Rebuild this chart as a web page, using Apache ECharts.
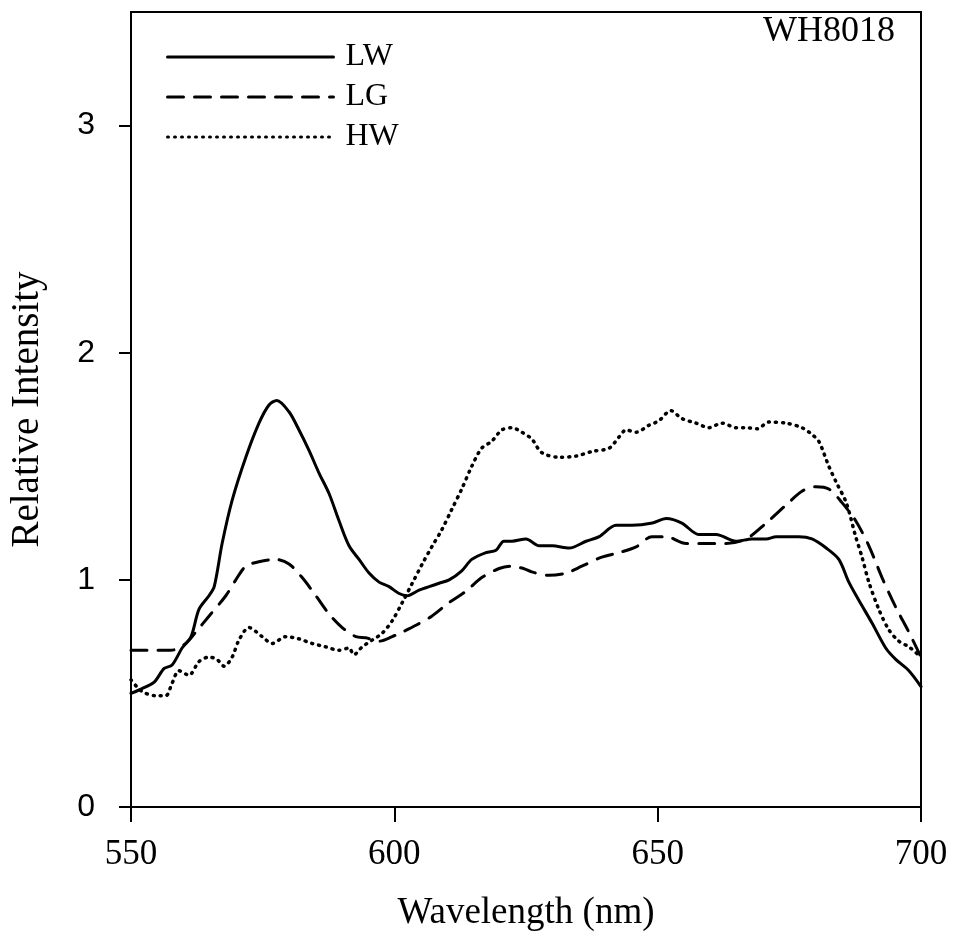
<!DOCTYPE html>
<html>
<head>
<meta charset="utf-8">
<script src="https://cdn.jsdelivr.net/npm/echarts@6/dist/echarts.min.js"></script>
<style>
  html, body { margin: 0; padding: 0; background: #fff; }
  #chart { width: 962px; height: 949px; }
</style>
</head>
<body>
<div id="chart"></div>
<script>
// wavelength (nm) / relative intensity
const lwX = [550,552,554.4,556.3,557.8,559.7,561.4,562.9,564.8,565.8,567.3,569.2,571.8,574.3,576.2,577.7,580,581.9,583.8,585.7,587.6,589.5,591.4,593.3,595.2,597.1,599,600.9,602.4,604.7,606.6,608.5,610.4,612.8,614.7,617.4,619.3,620.8,622.3,625,627.5,630,633.2,636.4,638.9,642.1,645.1,649,651.6,654.6,657.8,661.1,664.9,667.9,670.6,672.5,676.8,679.3,682,684.4,686.3,688.2,690.7,693.3,695.2,697.7,700];
const lwY = [0.50,0.52,0.55,0.61,0.625,0.70,0.75,0.87,0.93,0.97,1.16,1.35,1.54,1.69,1.77,1.79,1.74,1.66,1.57,1.47,1.38,1.26,1.15,1.09,1.03,0.99,0.97,0.94,0.93,0.955,0.97,0.985,1.00,1.04,1.09,1.12,1.13,1.17,1.17,1.18,1.15,1.15,1.14,1.17,1.19,1.24,1.24,1.25,1.27,1.25,1.20,1.20,1.17,1.18,1.18,1.19,1.19,1.18,1.14,1.09,0.99,0.91,0.81,0.70,0.65,0.60,0.53];

const lgX = [550,557.6,560.4,562.3,564.8,568,569.9,571.8,574.3,577.5,580,582.5,585.1,587.6,590.1,592.7,594.6,597.1,599.6,601.5,604.1,607.1,610.4,613.6,616.6,619.9,622,624.5,626.1,629.4,632.6,635.6,639.4,642.7,645.9,648.9,651.6,655.4,659.2,663,666.8,670.6,674.4,677.4,680,682.5,685,687.6,690.1,692.6,695.2,697.7,700];
const lgY = [0.69,0.69,0.72,0.77,0.84,0.93,1.00,1.06,1.08,1.09,1.07,1.01,0.93,0.85,0.79,0.75,0.745,0.73,0.75,0.77,0.80,0.84,0.90,0.95,1.01,1.05,1.06,1.05,1.035,1.02,1.03,1.06,1.10,1.12,1.145,1.19,1.19,1.16,1.16,1.16,1.18,1.25,1.33,1.39,1.41,1.40,1.34,1.26,1.15,1.01,0.88,0.77,0.66];

const hwX = [550,552,554.7,556.6,557.8,559.1,561,562.9,564.8,566.3,567.7,569.2,570.5,572.4,574.9,576.8,579.4,581.9,584.4,587,589.5,591.4,592.3,593.9,595.8,597.7,599.6,601.5,603.4,605.3,607.1,609,610.9,612.8,614.7,616.6,618.5,620.4,622.3,624.2,626.1,628,631.3,634.5,637.5,640.8,642.7,644,645.9,648.3,650.2,652.5,654.6,657.3,659.7,662.2,664.9,666.8,668.9,671.1,674.4,677.4,679.3,680.6,682.5,683.9,685.8,687.6,688.8,690.1,692,693.9,695.8,697.7,700];
const hwY = [0.56,0.51,0.49,0.49,0.545,0.60,0.58,0.64,0.66,0.65,0.62,0.66,0.735,0.79,0.75,0.72,0.75,0.74,0.72,0.705,0.69,0.70,0.67,0.705,0.735,0.765,0.82,0.90,0.985,1.07,1.145,1.22,1.31,1.40,1.50,1.58,1.61,1.66,1.67,1.65,1.62,1.56,1.54,1.545,1.565,1.58,1.63,1.66,1.65,1.68,1.70,1.745,1.71,1.69,1.67,1.69,1.67,1.67,1.665,1.695,1.69,1.67,1.64,1.61,1.50,1.43,1.34,1.19,1.10,0.99,0.87,0.78,0.73,0.705,0.66];

const seriesNames = ['LW', 'LG', 'HW'];
const xTicks = [550, 600, 650, 700];
const yTicks = [0, 1, 2, 3];
const sampleName = 'WH8018';

const serif = '"Liberation Serif", "DejaVu Serif", serif';
const sans = '"Liberation Sans", Arial, sans-serif';

const pairs = (xs, ys) => xs.map((x, i) => [x, ys[i]]);

const chart = echarts.init(document.getElementById('chart'), null, { renderer: 'canvas' });

const mkSeries = (name, data, type, width) => ({
  name: name,
  type: 'line',
  data: data,
  symbol: 'none',
  smooth: 0.3,
  lineStyle: { color: '#000', width: width, type: type, cap: 'round' },
  itemStyle: { color: '#000' },
  z: 3
});

chart.setOption({
  animation: false,
  backgroundColor: '#fff',
  grid: {
    left: 131, right: 41, top: 12, bottom: 142,
    show: true, borderColor: '#000', borderWidth: 2, backgroundColor: 'transparent'
  },
  title: {
    text: sampleName,
    right: 62, top: 9,
    textStyle: { fontFamily: serif, fontSize: 36, fontWeight: 'normal', color: '#000' }
  },
  legend: {
    data: seriesNames,
    orient: 'vertical',
    left: 161, top: 36,
    itemWidth: 166, itemHeight: 16, itemGap: 8,
    itemStyle: { opacity: 0 },
    lineStyle: { width: 3 },
    textStyle: { fontFamily: serif, fontSize: 32, color: '#000', padding: [0, 0, 0, 7] }
  },
  xAxis: {
    type: 'value',
    min: 550, max: 700, interval: 50,
    name: 'Wavelength (nm)',
    nameLocation: 'middle', nameGap: 88,
    nameTextStyle: { fontFamily: serif, fontSize: 37, color: '#000' },
    axisLine: { lineStyle: { color: '#000', width: 2 } },
    axisTick: { show: true, length: 15, inside: false, lineStyle: { color: '#000', width: 2 }, customValues: xTicks },
    axisLabel: { fontFamily: serif, fontSize: 35, color: '#000', margin: 30, customValues: xTicks },
    splitLine: { show: false }
  },
  yAxis: {
    type: 'value',
    min: 0, max: 3.5, interval: 1,
    name: 'Relative Intensity',
    nameLocation: 'middle', nameGap: 84,
    nameTextStyle: { fontFamily: serif, fontSize: 39, color: '#000' },
    axisLine: { lineStyle: { color: '#000', width: 2 } },
    axisTick: { show: true, length: 12, lineStyle: { color: '#000', width: 2 }, customValues: yTicks },
    axisLabel: { fontFamily: sans, fontSize: 32, color: '#000', margin: 36, customValues: yTicks },
    splitLine: { show: false }
  },
  series: [
    mkSeries(seriesNames[0], pairs(lwX, lwY), 'solid', 3),
    mkSeries(seriesNames[1], pairs(lgX, lgY), [16, 11], 3),
    mkSeries(seriesNames[2], pairs(hwX, hwY), [1, 6], 3.5)
  ]
});
</script>
</body>
</html>
